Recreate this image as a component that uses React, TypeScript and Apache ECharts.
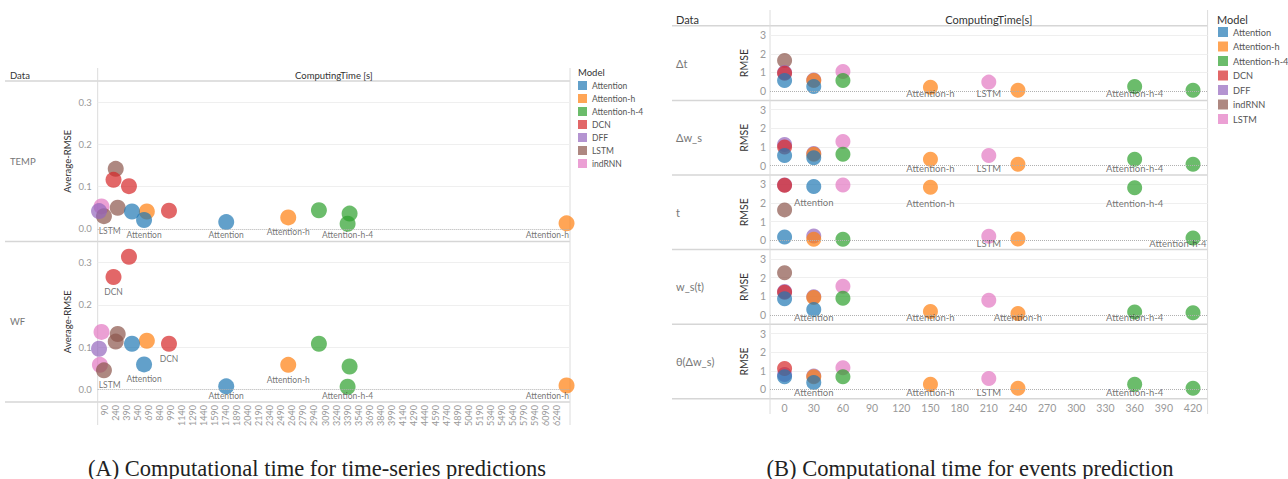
import React, { useEffect, useRef } from 'react';
import * as echarts from 'echarts';

// ---------- data ----------
const MODELS_A = ['Attention', 'Attention-h', 'Attention-h-4', 'DCN', 'DFF', 'LSTM', 'indRNN'];
const MODELS_B = ['Attention', 'Attention-h', 'Attention-h-4', 'DCN', 'DFF', 'indRNN', 'LSTM'];
const PALETTE = ['#1f77b4', '#ff7f0e', '#2ca02c', '#d62728', '#9467bd', '#8c564b', '#e377c2'];

const ROWS_A = ['TEMP', 'WF'];
const ROWS_B = ['Δt', 'Δw_s', 't', 'w_s(t)', 'θ(Δw_s)'];

const TICKS_A_X = [90, 240, 390, 540, 690, 840, 990, 1140, 1290, 1440, 1590, 1740, 1890, 2040, 2190, 2340, 2490, 2640, 2790, 2940, 3090, 3240, 3390, 3540, 3690, 3840, 3990, 4140, 4290, 4440, 4590, 4740, 4890, 5040, 5190, 5340, 5490, 5640, 5790, 5940, 6090, 6240];
const TICKS_A_Y = [0, 0.1, 0.2, 0.3];
const GRID_A_Y = [0.1, 0.2, 0.3];
const TICKS_B_X = [0, 30, 60, 90, 120, 150, 180, 210, 240, 270, 300, 330, 360, 390, 420];
const TICKS_B_Y = [0, 1, 2, 3];
const GRID_B_Y = [1, 2, 3];

type Pt = [number, number] | [number, number, string];

const TEMP: Record<string, Pt[]> = {
  'Attention': [[466, 0.041], [630, 0.021, 'Attention'], [1747, 0.016, 'Attention']],
  'Attention-h': [[668, 0.041], [2590, 0.027, 'Attention-h'], [6373, 0.013, 'Attention-h']],
  'Attention-h-4': [[3007, 0.044], [3424, 0.036], [3397, 0.012, 'Attention-h-4']],
  'DCN': [[215, 0.116], [425, 0.101], [969, 0.043]],
  'DFF': [[18, 0.042]],
  'LSTM': [[85, 0.03, 'LSTM'], [245, 0.142], [272, 0.05]],
  'indRNN': [[52, 0.053]],
};

const WF: Record<string, Pt[]> = {
  'Attention': [[466, 0.108], [630, 0.059, 'Attention'], [1747, 0.007, 'Attention']],
  'Attention-h': [[668, 0.115], [2590, 0.058, 'Attention-h'], [6373, 0.009, 'Attention-h']],
  'Attention-h-4': [[3007, 0.108], [3424, 0.054], [3397, 0.006, 'Attention-h-4']],
  'DCN': [[215, 0.266, 'DCN'], [425, 0.314], [969, 0.108, 'DCN']],
  'DFF': [[18, 0.096]],
  'LSTM': [[85, 0.045, 'LSTM'], [245, 0.113], [272, 0.131]],
  'indRNN': [[52, 0.136], [30, 0.058]],
};

const DT: Record<string, Pt[]> = {
  'Attention': [[0, 0.57], [30, 0.25]],
  'Attention-h': [[30, 0.57], [150, 0.21, 'Attention-h'], [240, 0.04]],
  'Attention-h-4': [[60, 0.57], [360, 0.25, 'Attention-h-4'], [420, 0.04]],
  'DCN': [[0, 0.96]],
  'DFF': [[0, 1.0], [30, 0.6]],
  'indRNN': [[0, 1.64]],
  'LSTM': [[60, 1.05], [210, 0.48, 'LSTM']],
};

const DWS: Record<string, Pt[]> = {
  'Attention': [[0, 0.55], [30, 0.43]],
  'Attention-h': [[30, 0.61], [150, 0.34, 'Attention-h'], [240, 0.07]],
  'Attention-h-4': [[60, 0.61], [360, 0.34, 'Attention-h-4'], [420, 0.07]],
  'DCN': [[0, 1.0]],
  'DFF': [[0, 1.14], [30, 0.65]],
  'indRNN': [],
  'LSTM': [[60, 1.29], [210, 0.54, 'LSTM']],
};

const TT: Record<string, Pt[]> = {
  'Attention': [[0, 0.18], [30, 2.88, 'Attention']],
  'Attention-h': [[30, 0.05], [150, 2.84, 'Attention-h'], [240, 0.07]],
  'Attention-h-4': [[60, 0.05], [360, 2.82, 'Attention-h-4'], [420, 0.12, 'Attention-h-4']],
  'DCN': [[0, 2.95]],
  'DFF': [[0, 2.97], [30, 0.23]],
  'indRNN': [[0, 1.63]],
  'LSTM': [[60, 2.97], [210, 0.21, 'LSTM']],
};

const WST: Record<string, Pt[]> = {
  'Attention': [[0, 0.87], [30, 0.29, 'Attention']],
  'Attention-h': [[30, 0.93], [150, 0.18, 'Attention-h'], [240, 0.07, 'Attention-h']],
  'Attention-h-4': [[60, 0.89], [360, 0.16, 'Attention-h-4'], [420, 0.11]],
  'DCN': [[0, 1.21]],
  'DFF': [[0, 1.25], [30, 0.97]],
  'indRNN': [[0, 2.26]],
  'LSTM': [[60, 1.53], [210, 0.78]],
};

const THETA: Record<string, Pt[]> = {
  'Attention': [[0, 0.68], [30, 0.38, 'Attention']],
  'Attention-h': [[30, 0.68], [150, 0.28, 'Attention-h'], [240, 0.07]],
  'Attention-h-4': [[60, 0.68], [360, 0.28, 'Attention-h-4'], [420, 0.07]],
  'DCN': [[0, 1.12]],
  'DFF': [[0, 0.8], [30, 0.72]],
  'indRNN': [],
  'LSTM': [[60, 1.16], [210, 0.59, 'LSTM']],
};

// ---------- layout ----------
const FONT = 'Lato';
const GEO_A = { left: 97.7, right: 570, tops: [81, 241.5], h: 160.5, xMin: 0, xMax: 6420, yMin: -0.03, yMax: 0.35, sym: 16, labelSize: 8.5, labelOff: 15 };
const GEO_B = { left: 770, right: 1207.6, tops: [25.8, 100.4, 175, 249.6, 324.2], h: 74.6, xMin: -15, xMax: 435, yMin: -0.5, yMax: 3.5, sym: 15, labelSize: 9.5, labelOff: 16 };

let ctx2d: CanvasRenderingContext2D | null = null;
function measure(t: string, size: number) {
  if (!ctx2d) ctx2d = document.createElement('canvas').getContext('2d');
  if (!ctx2d) return t.length * size * 0.5;
  ctx2d.font = `${size}px ${FONT}`;
  return ctx2d.measureText(t).width;
}

function toItem(p: Pt, geo: any) {
  const value = [p[0], p[1]];
  if (p.length < 3 || !p[2]) return { value };
  const text = p[2] as string;
  const pyu = geo.h / (geo.yMax - geo.yMin);
  const pxu = (geo.right - geo.left) / (geo.xMax - geo.xMin);
  const fromBottom = (p[1] - geo.yMin) * pyu;
  const dy = Math.min(geo.labelOff, fromBottom - 6.5);
  const px = geo.left + (p[0] - geo.xMin) * pxu;
  const w = measure(text, geo.labelSize);
  let dx = 0;
  if (px + w / 2 > geo.right - 1) dx = geo.right - 1 - w / 2 - px;
  if (px - w / 2 < geo.left + 1) dx = geo.left + 1 + w / 2 - px;
  return {
    value,
    label: {
      show: true, formatter: text, position: 'inside', offset: [dx, dy],
      color: '#333', fontSize: geo.labelSize, fontFamily: FONT,
    },
  };
}

function panelSeries(rowsData: Record<string, Pt[]>[], models: string[], geo: any, gridBase: number) {
  const out: any[] = [];
  rowsData.forEach((rd, r) => {
    const gi = gridBase + r;
    for (let m = models.length - 1; m >= 0; m--) {
      const name = models[m];
      const pts = rd[name] || [];
      const s: any = {
        type: 'scatter', name, xAxisIndex: gi, yAxisIndex: gi,
        symbol: 'circle', symbolSize: geo.sym,
        itemStyle: { color: PALETTE[m], opacity: 0.7 },
        emphasis: { disabled: true },
        data: pts.map((p) => toItem(p, geo)),
      };
      if (m === models.length - 1) {
        s.markLine = {
          silent: true, symbol: ['none', 'none'], label: { show: false },
          lineStyle: { type: 'dotted', color: '#b0b0b0', width: 1 },
          data: [{ yAxis: 0 }],
        };
      }
      out.push(s);
    }
  });
  return out;
}

function buildOption() {
  const grids: any[] = [];
  const xAxes: any[] = [];
  const yAxes: any[] = [];

  GEO_A.tops.forEach((top, i) => {
    grids.push({ left: GEO_A.left, top, width: GEO_A.right - GEO_A.left, height: GEO_A.h, outerBoundsMode: 'none' });
    xAxes.push({
      type: 'value', gridIndex: i, min: GEO_A.xMin, max: GEO_A.xMax,
      axisLine: { show: false }, axisTick: { show: false, customValues: TICKS_A_X }, splitLine: { show: false },
      axisLabel: {
        show: i === GEO_A.tops.length - 1, customValues: TICKS_A_X, rotate: 90, margin: 3,
        fontSize: 9, color: '#999', fontFamily: FONT, formatter: (v: number) => String(v),
      },
    });
    yAxes.push({
      type: 'value', gridIndex: i, min: GEO_A.yMin, max: GEO_A.yMax,
      name: 'Average-RMSE', nameLocation: 'middle', nameRotate: 90, nameGap: 25,
      nameTextStyle: { fontSize: 9.5, color: '#333', fontFamily: FONT },
      axisLine: { show: false }, axisTick: { show: false, customValues: GRID_A_Y },
      splitLine: { show: true, lineStyle: { color: '#efefef', width: 1 } },
      axisLabel: { customValues: TICKS_A_Y, formatter: (v: number) => v.toFixed(1), fontSize: 9.5, color: '#999', margin: 6, fontFamily: FONT },
    });
  });

  GEO_B.tops.forEach((top, j) => {
    const i = GEO_A.tops.length + j;
    grids.push({ left: GEO_B.left, top, width: GEO_B.right - GEO_B.left, height: GEO_B.h, outerBoundsMode: 'none' });
    xAxes.push({
      type: 'value', gridIndex: i, min: GEO_B.xMin, max: GEO_B.xMax,
      axisLine: { show: false }, axisTick: { show: false, customValues: TICKS_B_X }, splitLine: { show: false },
      axisLabel: {
        show: j === GEO_B.tops.length - 1, customValues: TICKS_B_X, margin: 4,
        fontSize: 10.5, color: '#999', fontFamily: FONT, formatter: (v: number) => String(v),
      },
    });
    yAxes.push({
      type: 'value', gridIndex: i, min: GEO_B.yMin, max: GEO_B.yMax,
      name: 'RMSE', nameLocation: 'middle', nameRotate: 90, nameGap: 21,
      nameTextStyle: { fontSize: 10.5, color: '#333', fontFamily: FONT },
      axisLine: { show: false }, axisTick: { show: false, customValues: GRID_B_Y },
      splitLine: { show: true, lineStyle: { color: '#efefef', width: 1 } },
      axisLabel: { customValues: TICKS_B_Y, fontSize: 10.5, color: '#999', margin: 4, fontFamily: FONT },
    });
  });

  const series = [
    ...panelSeries([TEMP, WF], MODELS_A, GEO_A, 0),
    ...panelSeries([DT, DWS, TT, WST, THETA], MODELS_B, GEO_B, GEO_A.tops.length),
  ];

  const line = (x1: number, y1: number, x2: number, y2: number, stroke = '#d9d9d9', lw = 1) => ({
    type: 'line', silent: true, shape: { x1, y1, x2, y2 }, style: { stroke, lineWidth: lw },
  });
  const text = (x: number, y: number, t: string, size: number, fill: string, align = 'left', family = FONT, weight: any = 'normal') => ({
    type: 'text', silent: true, x, y,
    style: { text: t, fill, fontSize: size, fontFamily: family, fontWeight: weight, align, verticalAlign: 'middle' },
  });

  const elements: any[] = [];
  // Panel A frame
  const aBottom = GEO_A.tops[GEO_A.tops.length - 1] + GEO_A.h;
  elements.push(line(5, GEO_A.tops[0], GEO_A.right, GEO_A.tops[0], '#d6d6d6', 1.5));
  GEO_A.tops.slice(1).forEach((t) => elements.push(line(5, t, GEO_A.right, t, '#d6d6d6', 1.5)));
  elements.push(line(5, aBottom, GEO_A.right, aBottom, '#d6d6d6', 1.5));
  elements.push(line(GEO_A.left, 68, GEO_A.left, 425, '#dcdcdc', 1));
  elements.push(line(GEO_A.right, 68, GEO_A.right, 425, '#dcdcdc', 1));
  elements.push(text(10, 75, 'Data', 9.5, '#333'));
  elements.push(text((GEO_A.left + GEO_A.right) / 2, 75, 'ComputingTime [s]', 9.5, '#333', 'center'));
  ROWS_A.forEach((r, i) => elements.push(text(10, GEO_A.tops[i] + GEO_A.h / 2, r, 9.5, '#777')));
  elements.push(text(578, 72, 'Model', 9.5, '#333'));

  // Panel B frame
  const bBottom = GEO_B.tops[GEO_B.tops.length - 1] + GEO_B.h;
  GEO_B.tops.forEach((t) => elements.push(line(672, t, GEO_B.right, t, '#d6d6d6', 1.5)));
  elements.push(line(672, bBottom, GEO_B.right, bBottom, '#d6d6d6', 1.5));
  elements.push(line(GEO_B.left, 10, GEO_B.left, 414, '#dcdcdc', 1));
  elements.push(line(GEO_B.right, 10, GEO_B.right, 414, '#dcdcdc', 1));
  elements.push(text(676, 19, 'Data', 11, '#333'));
  elements.push(text((GEO_B.left + GEO_B.right) / 2, 19, 'ComputingTime[s]', 11, '#333', 'center'));
  ROWS_B.forEach((r, i) => elements.push(text(676, GEO_B.tops[i] + GEO_B.h / 2, r, 11, '#777')));
  elements.push(text(1217, 19, 'Model', 11, '#333'));

  // Captions
  elements.push(text(317, 468, '(A) Computational time for time-series predictions', 22.5, '#222', 'center', 'Liberation Serif'));
  elements.push(text(970, 468, '(B) Computational time for events prediction', 22.5, '#222', 'center', 'Liberation Serif'));

  const legendBase = {
    orient: 'vertical', icon: 'rect', selectedMode: false, padding: 0,
  };

  return {
    animation: false,
    backgroundColor: '#ffffff',
    grid: grids,
    xAxis: xAxes,
    yAxis: yAxes,
    legend: [
      {
        ...legendBase, left: 578, top: 81, itemWidth: 9, itemHeight: 9, itemGap: 4,
        textStyle: { fontSize: 8.5, color: '#555', fontFamily: FONT, lineHeight: 9 },
        data: MODELS_A.map((m, i) => ({ name: m, itemStyle: { color: PALETTE[i], opacity: 0.7 } })),
      },
      {
        ...legendBase, left: 1218, top: 27, itemWidth: 10, itemHeight: 10, itemGap: 4.5,
        textStyle: { fontSize: 9.2, color: '#555', fontFamily: FONT, lineHeight: 10 },
        data: MODELS_B.map((m, i) => ({ name: m, itemStyle: { color: PALETTE[i], opacity: 0.7 } })),
      },
    ],
    graphic: { elements },
    series,
  };
}

export default function App() {
  const ref = useRef<HTMLDivElement>(null);
  useEffect(() => {
    document.body.style.margin = '0';
    if (!ref.current) return;
    const chart = echarts.init(ref.current, undefined, { renderer: 'svg' });
    chart.setOption(buildOption() as any);
    return () => chart.dispose();
  }, []);
  return <div ref={ref} style={{ width: 1288, height: 479 }} />;
}
